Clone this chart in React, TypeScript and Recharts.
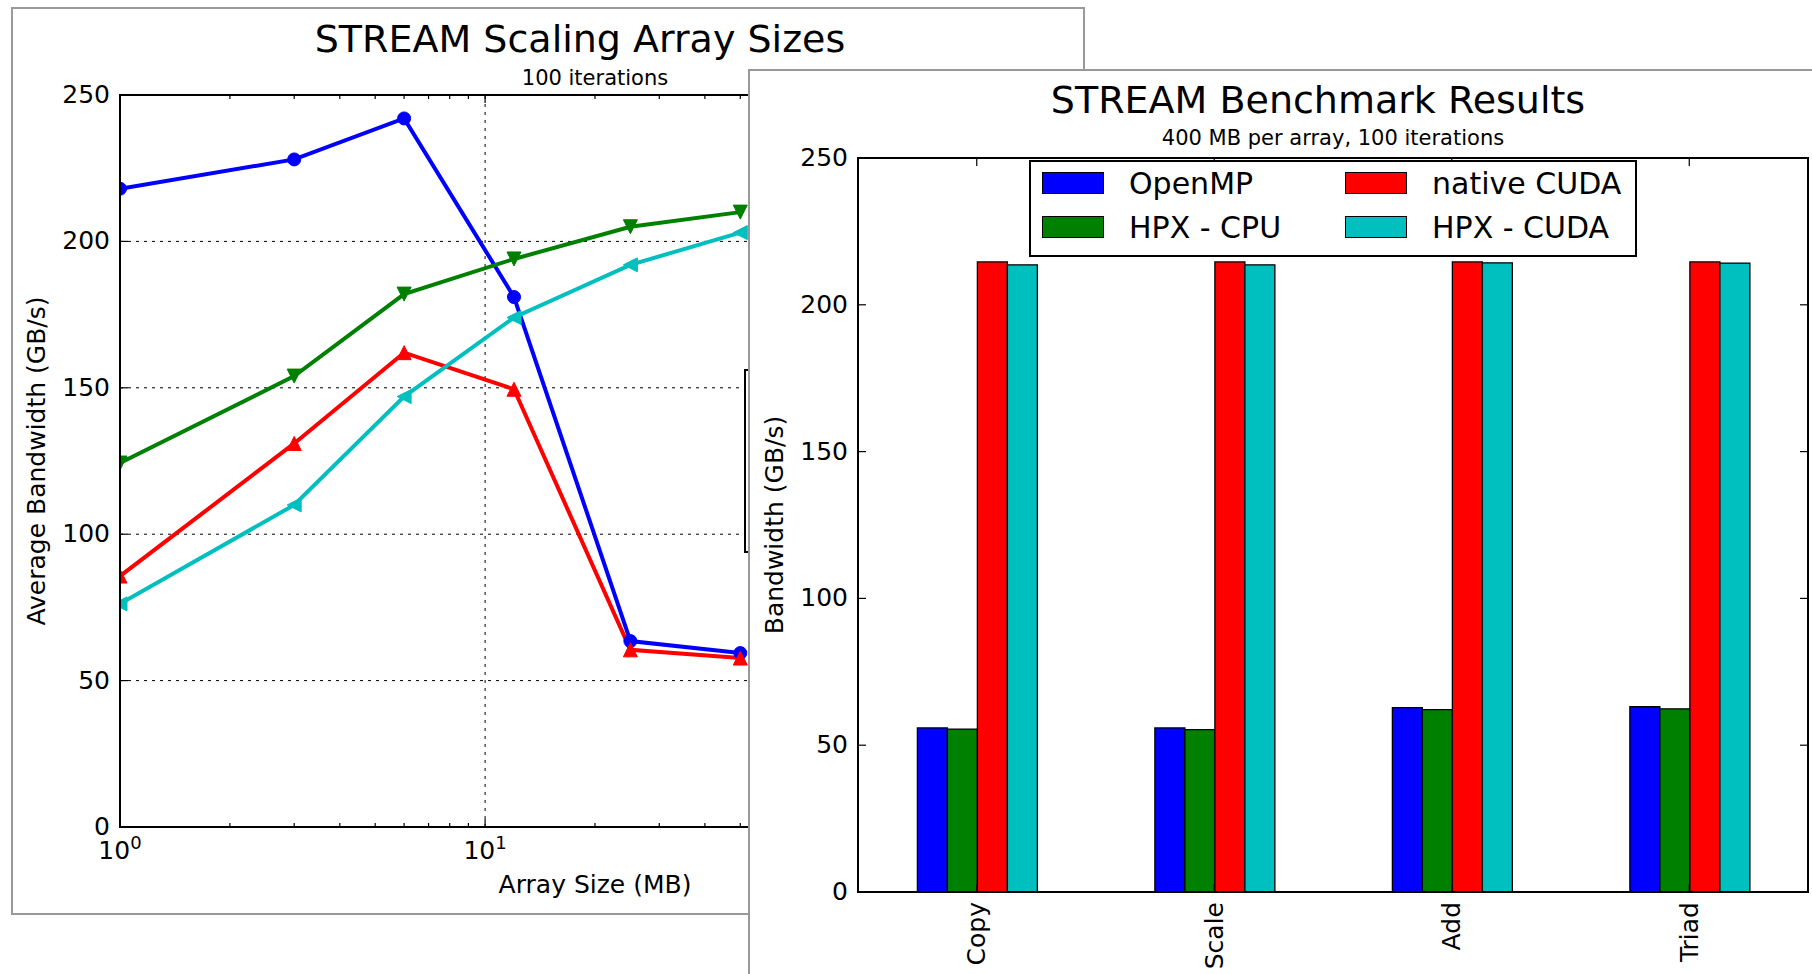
import React from "react";
import {
  Bar,
  BarChart,
  CartesianGrid,
  Legend,
  Line,
  LineChart,
  ReferenceLine,
  XAxis,
  YAxis,
} from "recharts";

// left panel: bandwidth vs array size (log x)
const ARRAY_SIZES = [1, 3, 6, 12, 25, 50];
const OPENMP_SCALING = [218, 228, 242, 181, 63.5, 59.4];
const CUDA_SCALING = [124.3, 154, 182, 194, 205, 210];
const HPX_CPU_SCALING = [85.7, 131, 162, 149.5, 60.5, 57.7];
const HPX_CUDA_SCALING = [76.2, 110, 147, 174, 192, 203];

// right panel: 400 MB arrays
const KERNELS = ["Copy", "Scale", "Add", "Triad"];
const SERIES_NAMES = ["OpenMP", "HPX - CPU", "native CUDA", "HPX - CUDA"];
const OPENMP_BW = [55.9, 55.9, 62.8, 63.1];
const HPX_CPU_BW = [55.5, 55.3, 62.1, 62.4];
const NATIVE_CUDA_BW = [214.6, 214.6, 214.6, 214.6];
const HPX_CUDA_BW = [213.6, 213.6, 214.3, 214.2];

const Y_TICKS = [0, 50, 100, 150, 200, 250];
const X_MAJOR_TICKS = [1, 10, 100];
const X_ALL_TICKS = [1, 2, 3, 4, 5, 6, 7, 8, 9, 10, 20, 30, 40, 50, 60, 70, 80, 90, 100, 200, 300, 400];

const BLUE = "#0000ff";
const GREEN = "#008000";
const RED = "#ff0000";
const CYAN = "#00bfbf";
const FONT = "'DejaVu Sans', sans-serif";

const PLOT_W = 950;
const LEFT_PLOT_H = 732;
const RIGHT_PLOT_H = 734;

const scalingRows = ARRAY_SIZES.map((size, i) => ({
  size,
  openmp: OPENMP_SCALING[i],
  cuda: CUDA_SCALING[i],
  hpxCpu: HPX_CPU_SCALING[i],
  hpxCuda: HPX_CUDA_SCALING[i],
}));

const kernelRows = KERNELS.map((kernel, i) => ({
  kernel,
  openmp: OPENMP_BW[i],
  hpxCpu: HPX_CPU_BW[i],
  nativeCuda: NATIVE_CUDA_BW[i],
  hpxCuda: HPX_CUDA_BW[i],
}));

function marker(shape: string, color: string) {
  return (p: any) => {
    const { cx, cy, index } = p;
    if (cx == null || cy == null) return <g key={index} />;
    const s = 7;
    let el;
    if (shape === "circle") el = <circle cx={cx} cy={cy} r={6.5} fill={color} stroke={color} />;
    else if (shape === "down")
      el = <polygon points={`${cx - s},${cy - s} ${cx + s},${cy - s} ${cx},${cy + s}`} fill={color} stroke={color} />;
    else if (shape === "up")
      el = <polygon points={`${cx - s},${cy + s} ${cx + s},${cy + s} ${cx},${cy - s}`} fill={color} stroke={color} />;
    else
      el = <polygon points={`${cx + s},${cy - s} ${cx + s},${cy + s} ${cx - s},${cy}`} fill={color} stroke={color} />;
    return <g key={index}>{el}</g>;
  };
}

function LogTick(props: any) {
  const { x, y, payload } = props;
  const v = payload.value;
  const major = X_MAJOR_TICKS.includes(v);
  const len = major ? 8 : 4;
  const top = y - LEFT_PLOT_H;
  return (
    <g>
      <line x1={x} x2={x} y1={y} y2={y - len} stroke="#000" strokeWidth={1.2} />
      <line x1={x} x2={x} y1={top} y2={top + len} stroke="#000" strokeWidth={1.2} />
      {major && (
        <text x={x} y={y + 32} textAnchor="middle" fontSize={25} fontFamily={FONT} fill="#000">
          10
          <tspan dy={-10} fontSize={18}>
            {Math.round(Math.log10(v))}
          </tspan>
        </text>
      )}
    </g>
  );
}

function YTick(props: any) {
  const { x, y, payload } = props;
  return (
    <g>
      <line x1={x} x2={x + 8} y1={y} y2={y} stroke="#000" strokeWidth={1.2} />
      <line x1={x + PLOT_W} x2={x + PLOT_W - 8} y1={y} y2={y} stroke="#000" strokeWidth={1.2} />
      <text x={x - 10} y={y} dy="0.32em" textAnchor="end" fontSize={25} fontFamily={FONT} fill="#000">
        {payload.value}
      </text>
    </g>
  );
}

function KernelTick(props: any) {
  const { x, y, payload } = props;
  const top = y - RIGHT_PLOT_H;
  return (
    <g>
      <line x1={x} x2={x} y1={y} y2={y - 8} stroke="#000" strokeWidth={1.2} />
      <line x1={x} x2={x} y1={top} y2={top + 8} stroke="#000" strokeWidth={1.2} />
      <text
        transform={`rotate(-90 ${x} ${y + 10})`}
        x={x}
        y={y + 10}
        textAnchor="end"
        dominantBaseline="central"
        fontSize={25}
        fontFamily={FONT}
        fill="#000"
      >
        {payload.value}
      </text>
    </g>
  );
}

function EmptyLegendBox() {
  return (
    <div
      style={{ width: "100%", height: 184, border: "2px solid #000", boxSizing: "border-box", background: "#fff" }}
    />
  );
}

function BarLegend(props: any) {
  const items = [...(props.payload || [])].sort(
    (a: any, b: any) => SERIES_NAMES.indexOf(a.value) - SERIES_NAMES.indexOf(b.value)
  );
  const columns = [items.slice(0, 2), items.slice(2, 4)];
  return (
    <div
      style={{
        position: "relative",
        width: 608,
        height: 97,
        border: "2px solid #000",
        boxSizing: "border-box",
        background: "#fff",
        fontFamily: FONT,
      }}
    >
      {columns.map((col: any[], ci: number) => (
        <div key={ci} style={{ position: "absolute", left: ci === 0 ? 11 : 314, top: 10 }}>
          {col.map((it: any, ri: number) => (
            <div key={ri} style={{ display: "flex", alignItems: "center", height: 22, marginBottom: 22 }}>
              <span
                style={{
                  width: 62,
                  height: 22,
                  background: it.color,
                  border: "1.5px solid #000",
                  boxSizing: "border-box",
                  display: "inline-block",
                }}
              />
              <span style={{ marginLeft: 25, fontSize: 30, color: "#000", whiteSpace: "nowrap" }}>{it.value}</span>
            </div>
          ))}
        </div>
      ))}
    </div>
  );
}

export default function App() {
  return (
    <div
      style={{
        position: "absolute",
        left: 0,
        top: 0,
        width: 1812,
        height: 974,
        overflow: "hidden",
        background: "#fff",
        fontFamily: FONT,
      }}
    >
      {/* left panel */}
      <div
        style={{
          position: "absolute",
          left: 11,
          top: 7,
          width: 1074,
          height: 908,
          border: "2px solid #999",
          boxSizing: "border-box",
        }}
      />
      <div style={{ position: "absolute", left: 12, top: 8 }}>
        <LineChart width={1072} height={906} data={scalingRows} margin={{ top: 87, right: 14, left: 0, bottom: 0 }}>
          <CartesianGrid vertical={false} stroke="#000" strokeDasharray="3 5" strokeWidth={1} />
          <ReferenceLine x={10} stroke="#000" strokeDasharray="3 5" strokeWidth={1} />
          <ReferenceLine x={100} stroke="#000" strokeDasharray="3 5" strokeWidth={1} />
          <XAxis
            dataKey="size"
            type="number"
            scale="log"
            domain={[1, 400]}
            allowDataOverflow
            ticks={X_ALL_TICKS}
            interval={0}
            tickSize={0}
            tickMargin={0}
            tickLine={false}
            axisLine={false}
            height={87}
            tick={(p: any) => <LogTick {...p} />}
          />
          <YAxis
            type="number"
            domain={[0, 250]}
            ticks={Y_TICKS}
            interval={0}
            width={108}
            tickSize={0}
            tickMargin={0}
            tickLine={false}
            axisLine={false}
            tick={(p: any) => <YTick {...p} />}
          />
          <Legend
            layout="vertical"
            align="center"
            verticalAlign="middle"
            content={() => <EmptyLegendBox />}
            wrapperStyle={{ left: 732, top: 361, width: 320, height: 184 }}
          />
          <Line dataKey="openmp" stroke={BLUE} strokeWidth={4} dot={marker("circle", BLUE)} activeDot={false} isAnimationActive={false} />
          <Line dataKey="cuda" stroke={GREEN} strokeWidth={4} dot={marker("down", GREEN)} activeDot={false} isAnimationActive={false} />
          <Line dataKey="hpxCpu" stroke={RED} strokeWidth={4} dot={marker("up", RED)} activeDot={false} isAnimationActive={false} />
          <Line dataKey="hpxCuda" stroke={CYAN} strokeWidth={4} dot={marker("left", CYAN)} activeDot={false} isAnimationActive={false} />
        </LineChart>
      </div>
      <div
        style={{
          position: "absolute",
          left: 119,
          top: 94,
          width: 952,
          height: 734,
          border: "2px solid #000",
          boxSizing: "border-box",
        }}
      />
      <svg width={1812} height={974} style={{ position: "absolute", left: 0, top: 0, pointerEvents: "none" }}>
        <text x={580} y={52} textAnchor="middle" fontSize={38} fontFamily={FONT}>
          STREAM Scaling Array Sizes
        </text>
        <text x={595} y={85} textAnchor="middle" fontSize={21} fontFamily={FONT}>
          100 iterations
        </text>
        <text x={595} y={893} textAnchor="middle" fontSize={25} fontFamily={FONT}>
          Array Size (MB)
        </text>
        <text x={45} y={461} transform="rotate(-90 45 461)" textAnchor="middle" fontSize={25} fontFamily={FONT}>
          Average Bandwidth (GB/s)
        </text>
      </svg>

      {/* right panel */}
      <div
        style={{
          position: "absolute",
          left: 748,
          top: 69,
          width: 1100,
          height: 1000,
          border: "2px solid #999",
          boxSizing: "border-box",
          background: "#fff",
        }}
      />
      <div style={{ position: "absolute", left: 749, top: 70 }}>
        <BarChart
          width={1063}
          height={904}
          data={kernelRows}
          margin={{ top: 88, right: 4, left: 0, bottom: 0 }}
          barCategoryGap="25%"
          barGap={0}
        >
          <XAxis
            dataKey="kernel"
            interval={0}
            tickSize={0}
            tickMargin={0}
            tickLine={false}
            axisLine={false}
            height={82}
            tick={(p: any) => <KernelTick {...p} />}
          />
          <YAxis
            type="number"
            domain={[0, 250]}
            ticks={Y_TICKS}
            interval={0}
            width={109}
            tickSize={0}
            tickMargin={0}
            tickLine={false}
            axisLine={false}
            tick={(p: any) => <YTick {...p} />}
          />
          <Legend
            layout="vertical"
            align="center"
            verticalAlign="middle"
            content={(p: any) => <BarLegend {...p} />}
            wrapperStyle={{ left: 280, top: 90, width: 608, height: 97 }}
          />
          <Bar dataKey="openmp" name={SERIES_NAMES[0]} fill={BLUE} stroke="#000" strokeWidth={1.3} isAnimationActive={false} />
          <Bar dataKey="hpxCpu" name={SERIES_NAMES[1]} fill={GREEN} stroke="#000" strokeWidth={1.3} isAnimationActive={false} />
          <Bar dataKey="nativeCuda" name={SERIES_NAMES[2]} fill={RED} stroke="#000" strokeWidth={1.3} isAnimationActive={false} />
          <Bar dataKey="hpxCuda" name={SERIES_NAMES[3]} fill={CYAN} stroke="#000" strokeWidth={1.3} isAnimationActive={false} />
        </BarChart>
      </div>
      <div
        style={{
          position: "absolute",
          left: 857,
          top: 157,
          width: 952,
          height: 736,
          border: "2px solid #000",
          boxSizing: "border-box",
          pointerEvents: "none",
        }}
      />
      <svg width={1812} height={974} style={{ position: "absolute", left: 0, top: 0, pointerEvents: "none" }}>
        <text x={1318} y={113} textAnchor="middle" fontSize={38} fontFamily={FONT}>
          STREAM Benchmark Results
        </text>
        <text x={1333} y={145} textAnchor="middle" fontSize={21} fontFamily={FONT}>
          400 MB per array, 100 iterations
        </text>
        <text x={783} y={525} transform="rotate(-90 783 525)" textAnchor="middle" fontSize={25} fontFamily={FONT}>
          Bandwidth (GB/s)
        </text>
      </svg>
    </div>
  );
}
